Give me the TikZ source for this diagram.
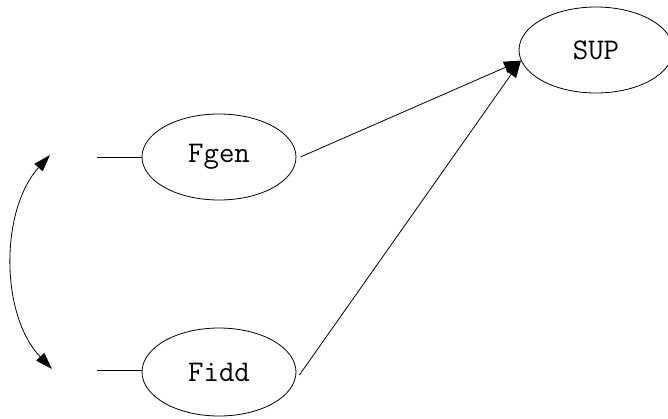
\documentclass[tikz,border=0pt]{standalone}
\usepackage{fontspec}
\usetikzlibrary{shapes.geometric,arrows.meta}
\begin{document}
\begin{tikzpicture}[x=1pt,y=-1pt,
  ell/.style={ellipse,draw,line width=0.8pt,minimum width=154pt,minimum height=86pt,inner sep=0pt,font=\ttfamily\fontsize{30}{34}\selectfont},
  conn/.style={line width=0.8pt},
  arr/.style={conn,-{Triangle[length=17pt,width=12pt]}},
  darr/.style={conn,{Triangle[length=17pt,width=11pt]}-{Triangle[length=17pt,width=11pt]}}]
\clip (0,0) rectangle (668,418);
\useasboundingbox (0,0) rectangle (668,418);
\node[ell] (sup) at (596,50) {SUP};
\node[ell] (fgen) at (219,157) {Fgen};
\node[ell,minimum height=88pt] (fidd) at (219,372) {Fidd};
\coordinate (sa) at (97,157);
\coordinate (sb) at (97,370);
\coordinate (ct) at (50,155);
\coordinate (cb) at (52,369);
\draw[conn] (sa) -- (fgen.west);
\draw[conn] (sb) -- (fidd.west |- sb);
\draw[darr] (ct) .. controls (0,210) and (0,315) .. (cb);
\draw[arr] ([xshift=4pt]fgen.east) -- (sup.188);
\draw[arr] ([xshift=3pt,yshift=-3pt]fidd.east) -- (sup.188);
\end{tikzpicture}
\end{document}
